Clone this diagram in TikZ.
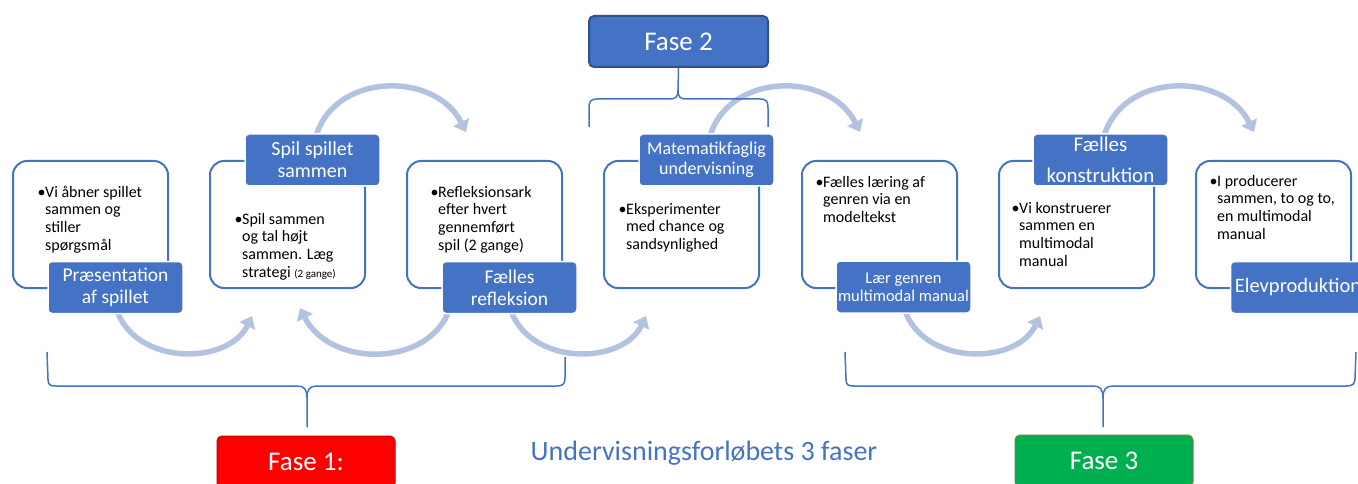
\documentclass[tikz,border=0pt]{standalone}
\usepackage{fontspec}
\setmainfont{Carlito}
\usetikzlibrary{arrows.meta,calc}
\definecolor{blu}{HTML}{4472C4}
\definecolor{blud}{HTML}{2F528F}
\definecolor{arcc}{HTML}{B4C2E2}
\definecolor{fred}{HTML}{FF0000}
\definecolor{fredd}{HTML}{C00000}
\definecolor{fgreen}{HTML}{00B050}
\definecolor{fgreend}{HTML}{7F7F40}
\newcommand\bul{\llap{\makebox[7.5pt][l]{•}}}
\begin{document}
\begin{tikzpicture}[x=1pt,y=-1pt,
 outer/.style={draw=blu, line width=2pt, fill=white, rounded corners=14pt, minimum width=155pt, minimum height=127pt, inner sep=0pt, anchor=north west},
 lbl/.style={draw=white, line width=1.5pt, fill=blu, rounded corners=4pt, minimum width=135pt, minimum height=52pt, inner sep=0pt, text=white, align=center},
 body/.style={anchor=base west, align=left, inner sep=0pt, font=\fontsize{16}{17.8}\selectfont},
 cyc/.style={draw=arcc, line width=5.5pt, -{Triangle[width=17pt,length=11pt]}},
 brk/.style={draw=blu, line width=1.5pt},
 fase/.style={rounded corners=5pt, minimum width=178pt, minimum height=52pt, text=white, font=\fontsize{27}{30}\selectfont, line width=1pt, inner sep=0pt}
]
\useasboundingbox (0,0) rectangle (1358,484);

% cycle arrows
\foreach \k/\n in {245/t1,639/t2,1033/t3}{
  \coordinate (\n s) at (\k+70,140);
  \coordinate (\n e) at (\k+221,132);
  \draw[cyc] (\n s) .. controls (\k+86,72) and (\k+190,70) .. (\n e);
}
\foreach \k/\n in {48/b1,442/b2,836/b3}{
  \coordinate (\n s) at (\k+68,308);
  \coordinate (\n e) at (\k+204,316);
  \draw[cyc] (\n s) .. controls (\k+86,366) and (\k+180,366) .. (\n e);
}
\coordinate (bks) at (450,308);
\coordinate (bke) at (300,308);
\draw[cyc] (bks) .. controls (430,368) and (330,368) .. (bke);

% outline boxes
\node[outer] (B1) at (12,160) {};
\node[outer] (B2) at (209,160) {};
\node[outer] (B3) at (406,160) {};
\node[outer] (B4) at (603,160) {};
\node[outer] (B5) at (801,160) {};
\node[outer] (B6) at (998,160) {};
\node[outer] (B7) at (1195,160) {};

% labels
\node[lbl, font=\fontsize{19.5}{22}\selectfont] (L1) at (115.5,287.5) {Præsentation\\af spillet};
\node[lbl, font=\fontsize{20}{22}\selectfont] (L2) at (312.5,160) {Spil spillet\\sammen};
\node[lbl, font=\fontsize{19.5}{22}\selectfont] (L3) at (509.5,287.5) {Fælles\\refleksion};
\node[lbl, font=\fontsize{18}{19.5}\selectfont] (L4) at (706.5,160) {Matematikfaglig\\undervisning};
\node[lbl, font=\fontsize{16.5}{18}\selectfont] (L5) at (903.5,287) {Lær genren\\multimodal manual};
\node[lbl, font=\fontsize{21}{31}\selectfont] (L6) at (1100.5,160) {Fælles\\konstruktion};
\node[lbl, font=\fontsize{20.5}{22}\selectfont] (L7) at (1298,287.5) {Elevproduktion};

% body texts (anchor = baseline of last line)
\node[body] (T1) at (45,250.4) {\bul Vi åbner spillet\\sammen og\\stiller\\spørgsmål};
\node[body] (T2) at (242,277.4) {\bul Spil sammen\\og tal højt\\sammen. Læg\\strategi {\fontsize{11}{12}\selectfont (2 gange)}};
\node[body] (T3) at (438,250.4) {\bul Refleksionsark\\efter hvert\\gennemført\\spil (2 gange)};
\node[body] (T4) at (626,249.6) {\bul Eksperimenter\\med chance og\\sandsynlighed};
\node[body] (T5) at (823,222.6) {\bul Fælles læring af\\genren via en\\modeltekst};
\node[body] (T6) at (1019,266.4) {\bul Vi konstruerer\\sammen en\\multimodal\\manual};
\node[body] (T7) at (1217,239.4) {\bul I producerer\\sammen, to og to,\\en multimodal\\manual};

% phase boxes
\node[fase, fill=fred, draw=fredd] (F1) at (306,462) {Fase 1:};
\node[fase, fill=fgreen, draw=fgreend] (F3) at (1104,461) {Fase 3};
\node[fase, fill=blu, draw=blud, line width=2pt, minimum width=179pt, minimum height=51pt] (F2) at (678.5,41.5) {Fase 2};

% brackets
\coordinate (p1) at (307,427);
\coordinate (p3) at (1103,427);
\draw[brk] (47,352) -- (48,379) .. controls (48,385) and (50,386) .. (56,386) -- (297,386) .. controls (304,386) and (307,389) .. (307,398) -- (p1);
\draw[brk] (307,398) .. controls (307,389) and (310,386) .. (317,386) -- (556,386) .. controls (563,386) and (565,384) .. (565,378) -- (565,357);
\draw[brk] (845,352) -- (846,379) .. controls (846,385) and (848,386) .. (854,386) -- (1093,386) .. controls (1100,386) and (1103,389) .. (1103,398) -- (p3);
\draw[brk] (1103,398) .. controls (1103,389) and (1106,386) .. (1113,386) -- (1346,386) .. controls (1353,386) and (1355,384) .. (1355,378) -- (1356,352);
\draw[brk] (F2.south) -- (678,90) .. controls (678,97) and (676,99) .. (669,99) -- (597,99) .. controls (591,99) and (589,101) .. (589,108) -- (589,127);
\draw[brk] (678,90) .. controls (678,97) and (680,99) .. (687,99) -- (760,99) .. controls (766,99) and (768,101) .. (768,108) -- (768,127);

% title
\node[text=blu, font=\fontsize{28}{30}\selectfont, inner sep=0pt] (title) at (704,453) {Undervisningsforløbets 3 faser};
\end{tikzpicture}
\end{document}
